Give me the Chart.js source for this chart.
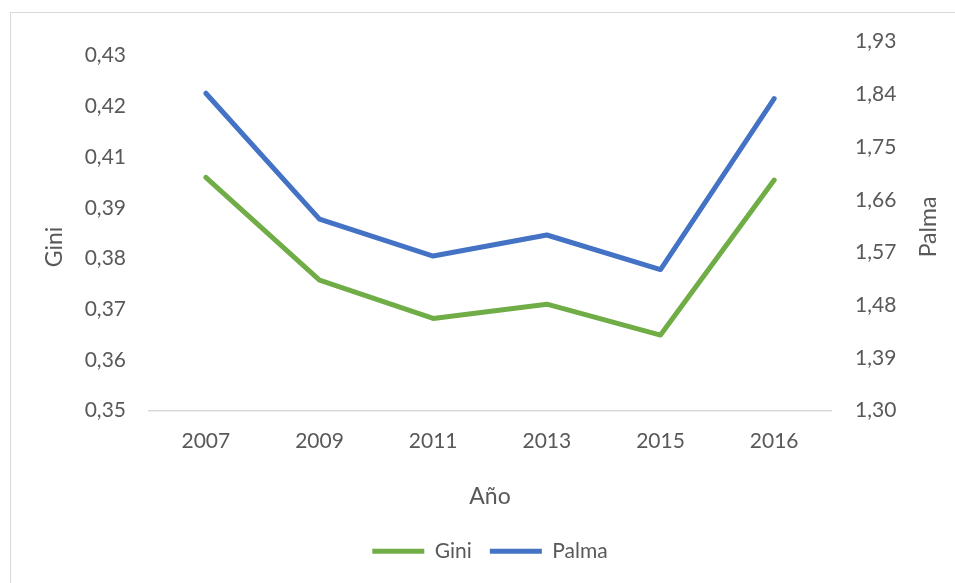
<!DOCTYPE html>
<html>
<head>
<meta charset="utf-8">
<script src="https://cdn.jsdelivr.net/npm/chart.js@4/dist/chart.umd.min.js"></script>
<style>
  html, body { margin: 0; padding: 0; background: #ffffff; overflow: hidden; }
  #wrap { position: relative; width: 955px; height: 583px; }
  #frame { position: absolute; left: 10px; top: 12px; width: 980px; height: 620px; border: 1px solid #d9d9d9; box-sizing: border-box; }
  canvas { position: absolute; left: 0; top: 0; }
</style>
</head>
<body>
<div id="wrap">
  <div id="frame"></div>
  <canvas id="c" width="955" height="583"></canvas>
</div>
<script>
const years = ['2007', '2009', '2011', '2013', '2015', '2016'];
const giniValues = [0.4006, 0.3783, 0.3700, 0.3731, 0.3664, 0.4000];
const palmaValues = [1.842, 1.627, 1.564, 1.600, 1.541, 1.833];
const giniTickValues = [0.35, 0.361, 0.372, 0.383, 0.394, 0.405, 0.416, 0.427];
const giniTickLabels = ['0,35', '0,36', '0,37', '0,38', '0,39', '0,41', '0,42', '0,43'];
const palmaTickValues = [1.30, 1.39, 1.48, 1.57, 1.66, 1.75, 1.84, 1.93];
const palmaTickLabels = ['1,30', '1,39', '1,48', '1,57', '1,66', '1,75', '1,84', '1,93'];

const FONT = 'Lato';
const TXT = '#595959';
const GREEN = '#70AD47';
const BLUE = '#4472C4';

const axisTitles = {
  id: 'axisTitles',
  afterDraw(chart) {
    const ctx = chart.ctx;
    ctx.save();
    ctx.fillStyle = TXT;
    ctx.font = '23px ' + FONT;
    ctx.textAlign = 'center';
    ctx.textBaseline = 'middle';
    const put = (t, x, y) => {
      ctx.save();
      ctx.translate(x, y);
      ctx.rotate(-Math.PI / 2);
      ctx.fillText(t, 0, 0);
      ctx.restore();
    };
    put('Gini', 55, 247);
    put('Palma', 929, 227);
    ctx.restore();
  }
};

new Chart(document.getElementById('c'), {
  type: 'line',
  data: {
    labels: years,
    datasets: [
      { label: 'Gini', data: giniValues, yAxisID: 'y', borderColor: GREEN, backgroundColor: GREEN,
        borderWidth: 5, pointRadius: 0, tension: 0, borderCapStyle: 'round', borderJoinStyle: 'round' },
      { label: 'Palma', data: palmaValues, yAxisID: 'y1', borderColor: BLUE, backgroundColor: BLUE,
        borderWidth: 5, pointRadius: 0, tension: 0, borderCapStyle: 'round', borderJoinStyle: 'round' }
    ]
  },
  options: {
    responsive: false,
    animation: false,
    layout: { padding: { top: 41.7, left: 0, right: 0, bottom: 11.3 } },
    plugins: {
      tooltip: { enabled: false },
      legend: {
        position: 'bottom',
        fullSize: false,
        labels: {
          usePointStyle: true,
          pointStyle: 'line',
          pointStyleWidth: 52,
          boxHeight: 5,
          padding: 18,
          color: TXT,
          font: { family: FONT, size: 21 }
        }
      }
    },
    scales: {
      x: {
        type: 'category',
        offset: true,
        grid: { display: false, drawTicks: false },
        border: { display: true, color: '#d9d9d9', width: 1.5 },
        ticks: { color: TXT, font: { family: FONT, size: 21 }, padding: 18, maxRotation: 0, autoSkip: false },
        title: { display: true, text: 'Año', color: TXT, font: { family: FONT, size: 23 }, padding: { top: 0, bottom: 12 } },
        afterFit(s) { s.height = 112; }
      },
      y: {
        position: 'left',
        min: 0.35, max: 0.43,
        grid: { display: false, drawTicks: false },
        border: { display: false },
        ticks: {
          color: TXT, font: { family: FONT, size: 21 }, padding: 23, autoSkip: false,
          callback: (v, i) => giniTickLabels[i]
        },
        afterBuildTicks(s) { s.ticks = giniTickValues.map(v => ({ value: v })); },
        afterFit(s) { s.width = 149; }
      },
      y1: {
        position: 'right',
        min: 1.30, max: 1.93,
        grid: { display: false, drawTicks: false },
        border: { display: false },
        ticks: {
          color: TXT, font: { family: FONT, size: 21 }, padding: 24, autoSkip: false,
          callback: (v, i) => palmaTickLabels[i]
        },
        afterBuildTicks(s) { s.ticks = palmaTickValues.map(v => ({ value: v })); },
        afterFit(s) { s.width = 124; }
      }
    }
  },
  plugins: [axisTitles]
});
</script>
</body>
</html>
